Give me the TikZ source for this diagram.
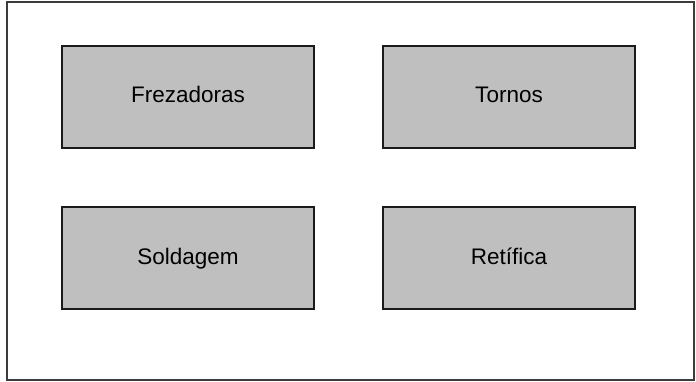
\documentclass[tikz,border=0pt]{standalone}
\usepackage{fontspec}
\setmainfont{Liberation Sans}
\usetikzlibrary{positioning}
\definecolor{MaqFill}{HTML}{BFBFBF}
\definecolor{MaqInk}{HTML}{1A1A1A}

\begin{document}
\begin{tikzpicture}[x=1pt, y=1pt,
    maq/.style={draw=MaqInk, line width=1.2pt, fill=MaqFill, outer sep=0pt,
      minimum width=252pt, minimum height=102pt, text height=16pt, text depth=4pt,
      font=\fontsize{22.5}{26}\selectfont},
    frame/.style={draw=MaqInk!85, line width=1.4pt}
  ]
    \useasboundingbox (0,0) rectangle (696,381);
    \draw[frame] (7,1) rectangle (694,379);
    \node[maq] (frez) at (188,284) {Frezadoras};
    \node[maq, right=69pt of frez] (tornos) {Tornos};
    \node[maq, below=59pt of frez] (solda) {Soldagem};
    \node[maq, below=59pt of tornos] (retif) {Retífica};
  \end{tikzpicture}
\end{document}
